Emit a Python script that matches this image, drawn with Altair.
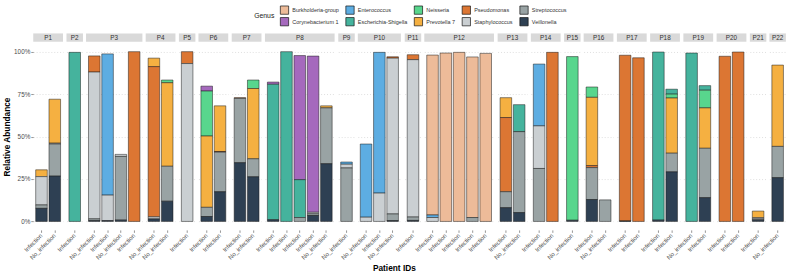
import altair as alt
import pandas as pd

patients = ["P1", "P1", "P2", "P3", "P3", "P3", "P3", "P4", "P4", "P5",
            "P6", "P6", "P7", "P7", "P8", "P8", "P8", "P8", "P8", "P9",
            "P10", "P10", "P10", "P11", "P12", "P12", "P12", "P12", "P12", "P13",
            "P13", "P14", "P14", "P15", "P16", "P16", "P17", "P17", "P18", "P18",
            "P19", "P19", "P20", "P20", "P21", "P22"]
sample_types = ["Infection", "No_infection", "Infection", "No_infection", "Infection", "No_infection", "Infection", "No_infection", "No_infection", "Infection",
                "Infection", "Infection", "Infection", "No_infection", "Infection", "Infection", "Infection", "Infection", "No_infection", "No_infection",
                "No_infection", "Infection", "No_infection", "Infection", "Infection", "Infection", "Infection", "Infection", "Infection", "Infection",
                "No_infection", "Infection", "Infection", "No_infection", "Infection", "No_infection", "Infection", "Infection", "Infection", "Infection",
                "No_infection", "Infection", "Infection", "Infection", "Infection", "No_infection"]

genera = ["Burkholderia-group", "Corynebacterium 1", "Enterococcus", "Escherichia-Shigella", "Neisseria",
          "Prevotella 7", "Pseudomonas", "Staphylococcus", "Streptococcus", "Veillonella"]
genus_colors = ["#EDBB99", "#A569BD", "#5DADE2", "#45B39D", "#58D68D",
                "#F5B041", "#DC7633", "#CACFD2", "#99A3A4", "#2E4053"]

# percent abundance per sample (index = position in the patients list)
burkholderia = {24: 94.2, 25: 99.2, 26: 99.6, 27: 94.6, 28: 99.0}
corynebacterium = {10: 2.9, 14: 1.3, 16: 73.1, 17: 92.0}
enterococcus = {4: 83.2, 19: 1.3, 20: 43.1, 21: 82.9, 24: 1.5, 31: 36.4}
escherichia = {2: 99.6, 14: 79.8, 15: 100.0, 16: 22.3, 30: 15.9, 38: 99.0, 39: 2.9, 40: 99.2, 41: 2.7}
neisseria = {8: 1.6, 10: 26.5, 13: 5.0, 33: 96.4, 34: 6.1, 39: 2.3, 41: 10.4}
prevotella = {0: 4.0, 1: 25.9, 7: 5.0, 8: 49.2, 10: 42.0, 11: 26.9, 13: 41.4, 18: 1.2, 29: 11.7,
              34: 40.2, 39: 32.5, 41: 23.8, 44: 3.9, 45: 47.9}
pseudomonas = {3: 9.5, 6: 100.0, 7: 88.5, 9: 7.0, 11: 0.4, 12: 0.4, 22: 0.8, 23: 2.9, 29: 43.7,
               32: 99.6, 34: 1.2, 36: 97.6, 37: 96.4, 42: 97.3, 43: 99.8}
staphylococcus = {0: 16.7, 1: 0.5, 3: 86.5, 4: 15.0, 5: 1.2, 7: 1.2, 9: 93.0, 17: 0.9, 19: 2.2,
                  20: 2.5, 21: 16.7, 22: 91.8, 23: 92.7, 24: 2.3, 31: 25.1, 44: 0.8}
streptococcus = {0: 2.0, 1: 18.9, 3: 1.0, 5: 37.5, 8: 20.6, 10: 5.4, 11: 23.3, 12: 37.9, 13: 10.6,
                 16: 2.3, 17: 1.0, 18: 32.9, 19: 31.5, 22: 3.9, 23: 2.0, 27: 2.3, 29: 9.4, 30: 47.7,
                 31: 31.2, 34: 18.8, 35: 12.7, 39: 11.0, 41: 29.1, 44: 0.6, 45: 18.4}
veillonella = {0: 7.7, 1: 26.7, 3: 0.5, 4: 0.5, 5: 0.8, 7: 1.5, 8: 11.9, 10: 2.9, 11: 17.5,
               12: 34.6, 13: 26.3, 14: 1.0, 17: 3.5, 18: 34.0, 22: 0.5, 23: 0.6, 29: 8.1, 30: 5.2,
               33: 0.7, 34: 12.9, 36: 0.3, 38: 0.8, 39: 29.2, 41: 14.0, 44: 0.8, 45: 25.8}

series = [burkholderia, corynebacterium, enterococcus, escherichia, neisseria,
          prevotella, pseudomonas, staphylococcus, streptococcus, veillonella]

rows = []
for i, (p, t) in enumerate(zip(patients, sample_types)):
    for rank, (g, vals) in enumerate(zip(genera, series)):
        v = vals.get(i, 0)
        if v > 0:
            rows.append(dict(patient=p, sid=f"{i:02d}|{t}", genus=g, value=v / 100.0, rank=rank))
df = pd.DataFrame(rows)

patient_order = []
for p in patients:
    if p not in patient_order:
        patient_order.append(p)
strip_df = pd.DataFrame({"patient": patient_order})

FONT = "Liberation Sans"
STEP = 13.6
P_IN = 0.13
P_OUT = 0.185
H = 191
NOVIEW = alt.ViewBackground(stroke="transparent", strokeWidth=0)

panels = []
for k, p in enumerate(patient_order):
    n = patients.count(p)
    w = STEP * (n - P_IN + 2 * P_OUT)
    first = k == 0
    if first:
        yaxis = alt.Axis(values=[0, 0.25, 0.5, 0.75, 1.0], format=".0%", grid=True,
                         gridDash=[1, 2], gridColor="#C8C8C8", gridWidth=0.6,
                         labelFontSize=6.5, labelColor="#4D4D4D", labelPadding=1,
                         tickSize=2.5, tickColor="#4D4D4D", tickWidth=0.6, domain=False,
                         title="Relative Abundance", titleFontSize=8.5, titleFontWeight="bold",
                         titleColor="black", titlePadding=2, labelFont=FONT, titleFont=FONT)
    else:
        yaxis = alt.Axis(values=[0, 0.25, 0.5, 0.75, 1.0], grid=True, gridDash=[1, 2],
                         gridColor="#C8C8C8", gridWidth=0.6, labels=False, ticks=False,
                         domain=False, title=None)
    bars = alt.Chart(df).transform_filter(alt.datum.patient == p).mark_bar(
        stroke="#1a1a1a", strokeWidth=0.6, strokeOpacity=0.85
    ).encode(
        x=alt.X("sid:N", title=None,
                scale=alt.Scale(paddingInner=P_IN, paddingOuter=P_OUT),
                axis=alt.Axis(labelExpr="split(datum.label, '|')[1]", labelAngle=-45,
                              labelAlign="right", labelBaseline="middle",
                              labelFontSize=6.2, labelColor="#4D4D4D", labelFont=FONT,
                              labelPadding=2, tickSize=2.5, tickColor="#4D4D4D",
                              tickWidth=0.6, domain=False, labelOverlap=False, grid=False)),
        y=alt.Y("value:Q", stack=True, scale=alt.Scale(domain=[-0.05, 1.05], nice=False),
                axis=yaxis),
        color=alt.Color("genus:N", scale=alt.Scale(domain=genera, range=genus_colors),
                        legend=alt.Legend(title="Genus", orient="none", legendX=226, legendY=-39,
                                          columns=5, titleOrient="left", symbolType="square",
                                          symbolSize=72, symbolStrokeColor="#111111",
                                          symbolStrokeWidth=0.7, labelFontSize=5.6,
                                          labelColor="#333333", titleFontSize=7,
                                          titleFontWeight="normal", titleColor="#222222",
                                          rowPadding=0, columnPadding=5, labelOffset=3,
                                          titlePadding=5, labelFont=FONT, titleFont=FONT,
                                          titleBaseline="middle")),
        order=alt.Order("rank:Q", sort="descending"),
    )
    strip = alt.Chart(strip_df).transform_filter(alt.datum.patient == p).mark_rect(
        color="#D9D9D9", strokeWidth=0
    ).encode(x=alt.value(0), x2=alt.value("width"), y=alt.value(-10), y2=alt.value(-1.5))
    label = alt.Chart(strip_df).transform_filter(alt.datum.patient == p).mark_text(
        fontSize=6.5, color="#333333", font=FONT, baseline="middle", align="center"
    ).encode(text="patient:N", x=alt.value(w / 2), y=alt.value(-5.75))
    panels.append(alt.layer(bars, strip, label).properties(width=w, height=H, view=NOVIEW))

chart = alt.hconcat(*panels, spacing=3, bounds="flush").properties(
    title=alt.TitleParams("Patient IDs", orient="bottom", anchor="middle", fontSize=8.5,
                          fontWeight="bold", color="black", font=FONT, offset=4),
    padding={"left": 2, "right": 1, "top": 2, "bottom": 2},
).configure_view(
    stroke="transparent", strokeWidth=0
).configure_axisX(grid=False, domain=False).configure_axisY(domain=False).configure(
    background="white"
)

chart.save("out.html", embed_options={"renderer": "svg", "actions": False})
